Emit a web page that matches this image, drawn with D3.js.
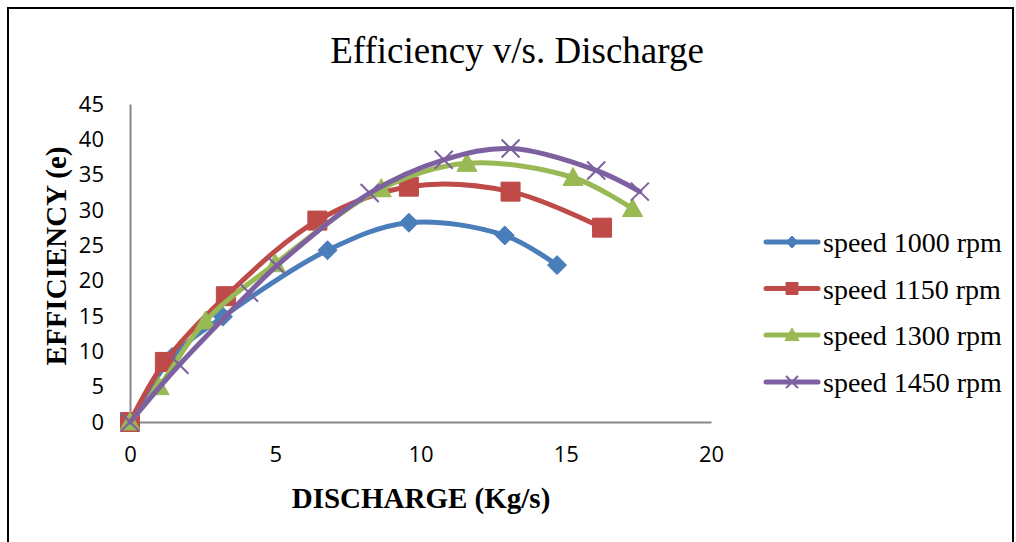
<!DOCTYPE html>
<html>
<head>
<meta charset="utf-8">
<script src="https://cdn.jsdelivr.net/npm/d3@7"></script>
<style>
  html, body { margin: 0; padding: 0; background: #fff; }
  svg { display: block; }
</style>
</head>
<body>
<svg id="chart" width="1016" height="542"></svg>
<script>
// Series: discharge (Kg/s) vs efficiency (e) at four pump speeds
const seriesNames = ["speed 1000 rpm", "speed 1150 rpm", "speed 1300 rpm", "speed 1450 rpm"];
const seriesColors = ["#4A7EBB", "#BE4B48", "#98B954", "#7D60A0"];
const seriesMarkers = ["diamond", "square", "triangle", "cross"];

const discharge1000 = [0, 1.45, 3.2, 6.8, 9.6, 12.9, 14.7];
const efficiency1000 = [0, 9.2, 14.9, 24.3, 28.2, 26.4, 22.2];

const discharge1150 = [0, 1.2, 3.3, 6.45, 9.6, 13.1, 16.25];
const efficiency1150 = [0, 8.5, 17.8, 28.5, 33.3, 32.6, 27.5];

const discharge1300 = [0, 1.0, 2.6, 5.0, 8.65, 11.6, 15.25, 17.3];
const efficiency1300 = [0, 5.0, 14.3, 22.4, 33.0, 36.6, 34.6, 30.2];

const discharge1450 = [0, 1.7, 4.1, 5.05, 8.25, 10.8, 13.1, 16.05, 17.55];
const efficiency1450 = [0, 8.1, 18.3, 22.1, 32.4, 37.1, 38.7, 35.6, 32.6];

const xTicks = [0, 5, 10, 15, 20];
const yTicks = [0, 5, 10, 15, 20, 25, 30, 35, 40, 45];

const chartTitle = "Efficiency v/s. Discharge";
const xTitle = "DISCHARGE (Kg/s)";
const yTitle = "EFFICIENCY (e)";

const seriesX = [discharge1000, discharge1150, discharge1300, discharge1450];
const seriesY = [efficiency1000, efficiency1150, efficiency1300, efficiency1450];
const series = seriesNames.map((name, i) => ({
  name,
  color: seriesColors[i],
  marker: seriesMarkers[i],
  points: seriesX[i].map((x, j) => ({ x, y: seriesY[i][j] }))
}));

const svg = d3.select("#chart");
const serif = "'Liberation Serif', 'Times New Roman', serif";

// outer frame
svg.append("rect")
  .attr("x", 8).attr("y", 8)
  .attr("width", 1005).attr("height", 560)
  .attr("fill", "none").attr("stroke", "#000").attr("stroke-width", 2);

const plot = { left: 130, right: 711, top: 104, bottom: 422 };
const x = d3.scaleLinear().domain([0, 20]).range([plot.left, plot.right]);
const y = d3.scaleLinear().domain([0, 45]).range([plot.bottom, plot.top]);

// title
svg.append("text")
  .attr("x", 517).attr("y", 63)
  .attr("text-anchor", "middle")
  .attr("font-family", serif)
  .attr("font-size", 37)
  .text(chartTitle);

// axes
const tickFont = "'Open Sans', 'Noto Sans', sans-serif";
const xAxis = svg.append("g")
  .attr("transform", `translate(0,${plot.bottom})`)
  .call(d3.axisBottom(x).tickValues(xTicks).tickSize(0).tickPadding(24).tickFormat(d3.format("d")));
const yAxis = svg.append("g")
  .attr("transform", `translate(${plot.left},0)`)
  .call(d3.axisLeft(y).tickValues(yTicks).tickSize(0).tickPadding(26).tickFormat(d3.format("d")));

[xAxis, yAxis].forEach(g => {
  g.select(".domain").attr("stroke", "#868686").attr("stroke-width", 2);
  g.selectAll("text")
    .attr("font-family", tickFont)
    .attr("font-size", 22)
    .attr("fill", "#000");
});

// axis titles
svg.append("text")
  .attr("x", 421).attr("y", 508)
  .attr("text-anchor", "middle")
  .attr("font-family", serif)
  .attr("font-weight", "bold")
  .attr("font-size", 29)
  .text(xTitle);

svg.append("text")
  .attr("transform", "translate(66,256) rotate(-90)")
  .attr("text-anchor", "middle")
  .attr("font-family", serif)
  .attr("font-weight", "bold")
  .attr("font-size", 29)
  .text(yTitle);

// marker shapes
function markerPath(type, s) {
  const h = s / 2;
  switch (type) {
    case "diamond": return `M0,${-h}L${h},0L0,${h}L${-h},0Z`;
    case "square": return `M${-h},${-h}H${h}V${h}H${-h}Z`;
    case "triangle": return `M0,${-h}L${h},${h * 0.8}L${-h},${h * 0.8}Z`;
    case "cross": return `M${-h},${-h}L${h},${h}M${h},${-h}L${-h},${h}`;
  }
}
function drawMarker(g, type, color, size) {
  const p = g.append("path").attr("d", markerPath(type, size));
  if (type === "cross") {
    p.attr("fill", "none").attr("stroke", color).attr("stroke-width", 2);
  } else {
    p.attr("fill", color).attr("stroke", color).attr("stroke-width", 1);
  }
}

const line = d3.line()
  .x(d => x(d.x))
  .y(d => y(d.y))
  .curve(d3.curveCatmullRom.alpha(0.5));

const markerSize = { diamond: 19, square: 19, triangle: 20, cross: 18 };

series.forEach(s => {
  const g = svg.append("g");
  g.append("path")
    .datum(s.points)
    .attr("d", line)
    .attr("fill", "none")
    .attr("stroke", s.color)
    .attr("stroke-width", 5)
    .attr("stroke-linejoin", "round")
    .attr("stroke-linecap", "round");
  s.points.forEach(p => {
    const m = g.append("g").attr("transform", `translate(${x(p.x)},${y(p.y)})`);
    drawMarker(m, s.marker, s.color, markerSize[s.marker]);
  });
});

// legend
const legendY = [242, 288.5, 335, 382];
series.forEach((s, i) => {
  const g = svg.append("g").attr("transform", `translate(0,${legendY[i]})`);
  g.append("line")
    .attr("x1", 766).attr("x2", 818)
    .attr("stroke", s.color).attr("stroke-width", 5).attr("stroke-linecap", "round");
  const m = g.append("g").attr("transform", "translate(792,0)");
  drawMarker(m, s.marker, s.color, s.marker === "triangle" ? 14 : 12);
  g.append("text")
    .attr("x", 823).attr("y", 10)
    .attr("font-family", serif)
    .attr("font-size", 28)
    .attr("fill", "#000")
    .text(s.name);
});
</script>
</body>
</html>
